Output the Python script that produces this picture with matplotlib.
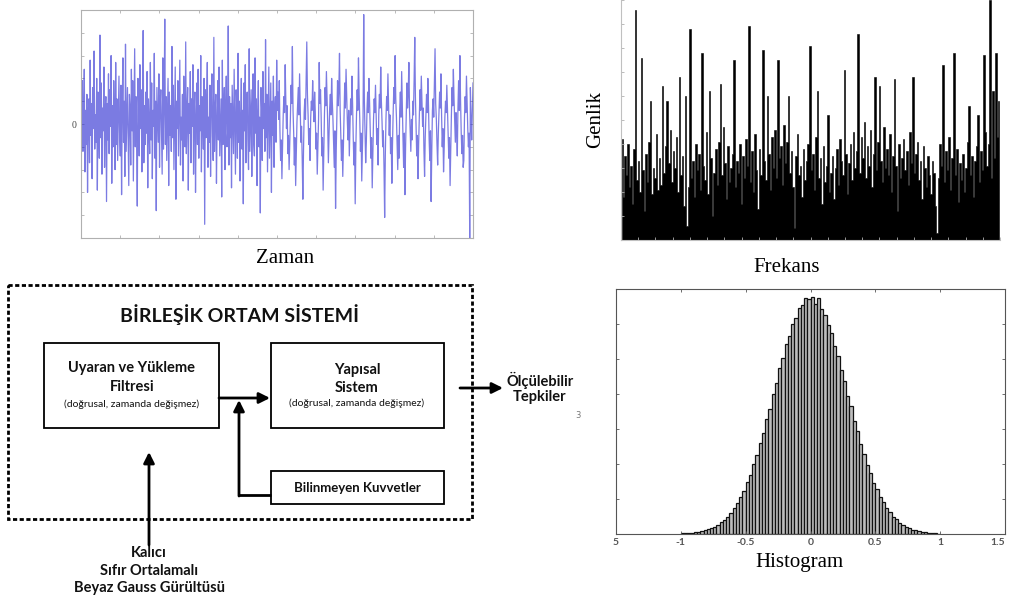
"""
Composite figure: noise in time, its spectrum, its histogram and the block diagram.
"""

import matplotlib

matplotlib.use("Agg")
import matplotlib.pyplot as plt
import numpy as np
from matplotlib.patches import Rectangle

W, H = 1010, 603
SANS = ["Lato", "DejaVu Sans"]
SERIF = ["Liberation Serif", "DejaVu Serif"]

# --- data ---
# white noise in time (Zaman), first and second half of the record
zaman_a = [
    0.8, -0.4, 1.9, -1.2, 0.3, 2.4, -2.1, 0.6, -0.9, 1.3, -3.0, 0.2, 1.1, -1.7, 2.8, -0.5, 0.9, -2.4, 1.6, -0.2,
    3.2, -1.1, 0.4, -0.8, 2.0, -2.9, 1.4, 0.1, -1.5, 3.9, -0.6, 1.8, -2.2, 0.7, -0.3, 2.5, -1.9, 0.5, 1.2, -3.4,
    0.9, -0.7, 2.2, -1.3, 1.5, -0.1, 3.0, -2.6, 0.8, -1.0, 1.9, 0.3, -2.0, 2.7, -0.9, 1.1, -1.6, 0.4, 2.1, -0.4,
    -1.4, 1.7, -3.1, 0.6, 2.9, -0.8, 1.0, -2.3, 3.5, -1.2, 0.2, 1.6, -0.5, -2.7, 1.3, 0.7, -1.8, 2.4, -0.3, 1.9,
    -2.5, 0.5, 3.3, -1.0, 1.2, -0.6, -3.6, 2.0, 0.9, -1.4, 2.6, -0.2, 1.5, -2.1, 0.3, 4.1, -1.7, 0.8, -0.9, 1.4,
    -0.4, 2.3, -2.8, 1.1, 0.0, -1.3, 2.7, -0.7, 1.8, -2.4, 0.6, -0.1, 3.1, -1.5, 1.0, -3.8, 1.6, 0.4, -0.8, 2.2,
    -1.9, 0.9, 1.5, -0.3, -2.2, 2.9, -1.1, 0.7, 4.6, -0.9, 1.2, -1.6, 0.2, 2.0, -2.7, 1.4, -0.5, 0.8, -1.2, 3.4,
    -0.6, 1.7, -2.0, 0.4, 2.5, -3.3, 1.0, -0.2, 1.9, -1.4, 0.6, 2.8, -1.8, 0.3, -0.7, 1.3, -2.5, 2.1, 0.1, -1.0,
    3.6, -1.3, 0.5, 1.6, -2.9, 0.9, -0.4, 2.3, -1.7, 1.1, -0.1, 2.6, -2.2, 0.7, 1.4, -3.0, 0.2, 1.8, -0.9, 2.4,
    -1.5, 0.8, -0.3, 3.0, -2.1, 1.2, 0.4, -1.1, 2.0, -4.4, 1.5, -0.6, 0.9, 2.7, -1.9, 0.3, -0.8, 1.7, -2.3, 1.0,
    2.2, -0.5, -1.6, 3.8, -1.2, 0.6, 1.3, -2.6, 0.1, 1.9, -0.7, 2.5, -1.4, -0.2, 1.1, -3.2, 2.8, -0.9, 0.5, 1.6,
    -2.0, 0.7, 2.1, -1.0, -0.4, 4.3, -1.8, 1.2, -0.6, 0.9, -2.8, 1.7, 0.3, -1.3, 2.4, -0.1, -2.2, 1.5, 0.8, -1.5,
    3.1, -0.8, 1.0, -2.5, 0.4, 2.0, -1.1, 0.6, -3.5, 1.8, -0.3, 2.6, -1.7, 0.9, 1.4, -0.7, -2.0, 3.3, -1.2, 0.2,
    1.5, -2.3, 0.8, 2.2, -0.9, -1.4, 2.9, -0.4, 1.1, -2.7, 0.5, 1.9, -1.0, 0.3, -3.9, 1.6, 0.7, -1.6, 2.3, -0.2,
    0.9, -1.2, 3.7, -0.6, 1.3, -2.1, 0.4, 2.5, -1.5, 0.1, 1.8, -3.0, 1.0, -0.5, 2.1, -1.9, 0.6, 1.2, -0.8, 2.8,
]
zaman_b = [
    0.6, 1.4, 0.2, 1.9, -0.3, -1.6, -0.7, -2.4, -1.1, 0.4, 1.2, 0.5, 2.6, 1.0, -0.2, 0.8, -1.3, -0.5, -2.0, -0.9,
    0.3, 1.7, 0.9, 3.4, 0.6, -0.4, -1.8, -0.6, -2.7, -1.4, 0.1, 0.9, 1.6, 0.4, 2.2, 0.7, -0.8, -0.1, -1.5, -3.3,
    -1.2, 0.5, 1.1, 0.2, 1.8, 3.6, 1.3, 0.4, -0.9, -0.2, -1.6, 0.3, 1.0, 0.6, 1.9, 0.8, 0.1, 1.4, 0.5, -1.1,
    -0.4, -2.2, -1.0, 0.2, 2.7, 0.9, 1.5, 0.3, -1.4, -0.6, -2.9, -1.3, 0.4, 1.6, 0.8, 2.3, 1.1, 0.0, -1.7, -0.5,
    0.7, 1.3, 0.4, 2.0, 1.0, 0.2, -0.8, -1.9, -0.3, -3.7, -1.2, 0.3, 1.9, 0.8, 1.5, 3.1, 0.6, -0.5, -1.6, -0.7,
    -2.3, -0.9, 0.5, 1.8, 0.7, 2.4, 1.2, 0.1, -0.7, 0.6, -1.4, -0.2, 1.1, 0.4, 2.1, 0.9, -0.6, -1.8, -0.8, -3.5,
    -1.0, 0.4, 1.5, 0.6, 2.9, 1.3, 0.2, -1.2, -0.4, -2.5, -1.1, 0.3, 4.8, 1.0, -0.3, -1.7, -0.8, 0.6, 1.4, 0.5,
    2.0, 0.9, -0.4, -1.5, -0.6, -2.8, -1.2, 0.2, 1.1, 0.5, 1.7, 0.3, -0.9, -0.2, -1.8, 0.4, 1.3, 0.7, 2.5, 1.0,
    0.1, -1.0, -0.3, -1.9, -4.1, -1.4, 0.2, 1.2, 0.6, 2.2, 0.8, -0.5, 0.4, -1.3, -0.6, -2.6, -0.9, 0.5, 1.6, 0.9,
    3.0, 1.1, 0.3, -0.8, -2.0, -0.5, -1.5, 0.6, 1.4, 0.3, 2.3, 0.8, -0.6, -1.9, -0.4, -3.1, -1.0, 0.5, 1.8, 0.7,
    1.3, 2.7, 0.6, -0.3, -1.2, 0.2, -0.7, 1.0, 0.4, 1.9, 3.8, 1.2, -0.2, -1.4, -0.5, -2.4, -0.8, 0.3, 1.5, 0.6,
    2.1, 0.9, -0.1, 0.7, -1.1, -2.3, -0.6, 0.4, 1.3, 0.5, 2.0, 0.8, -0.7, -1.6, -0.3, -3.4, -1.2, 0.6, 1.1, 0.3,
    1.8, 3.3, 0.9, 0.2, -0.9, -1.8, -0.4, 0.5, 1.4, 0.7, 2.2, 0.4, -1.0, -0.2, -2.1, -1.0, 0.3, 1.0, 0.5, 1.7,
    0.6, -0.5, -1.5, -0.6, -2.7, -1.1, 0.4, 1.6, 0.8, 2.4, 1.1, 0.1, -0.8, 0.5, -0.3, -1.4, 0.7, 1.9, 0.6, 3.0,
    1.0, -0.4, -1.3, -0.5, -1.9, -1.6, 0.3, 1.2, 0.5, 2.1, 0.9, -0.2, -1.0, -0.4, -5.0, 1.6, 0.3, -0.7, 0.6, 1.8,
]
zaman = zaman_a + zaman_b

# spectrum amplitude (Genlik vs Frekans), normalised to the axis height
genlik = [
    0.42, 0.18, 0.35, 0.27, 0.40, 0.22, 0.31, 0.15, 0.38, 0.96, 0.25, 0.33, 0.20, 0.76, 0.29, 0.12, 0.36, 0.24, 0.41, 0.58, 0.19, 0.30, 0.26, 0.44, 0.21,
    0.34, 0.23, 0.64, 0.28, 0.39, 0.58, 0.32, 0.46, 0.24, 0.37, 0.30, 0.43, 0.20, 0.68, 0.27, 0.35, 0.14, 0.60, 0.06, 0.22, 0.88, 0.26, 0.33, 0.18, 0.40,
    0.29, 0.36, 0.21, 0.78, 0.31, 0.25, 0.45, 0.19, 0.62, 0.34, 0.10, 0.28, 0.38, 0.23, 0.41, 0.65, 0.27, 0.47, 0.32, 0.17, 0.39, 0.24, 0.30, 0.36, 0.75,
    0.22, 0.33, 0.28, 0.40, 0.15, 0.35, 0.26, 0.42, 0.31, 0.89, 0.24, 0.37, 0.20, 0.44, 0.29, 0.13, 0.38, 0.27, 0.79, 0.33, 0.25, 0.60, 0.36, 0.21, 0.43,
    0.30, 0.46, 0.26, 0.75, 0.34, 0.39, 0.23, 0.48, 0.32, 0.41, 0.60, 0.28, 0.37, 0.22, 0.05, 0.35, 0.44, 0.27, 0.31, 0.18, 0.38, 0.25, 0.33, 0.40, 0.81,
    0.29, 0.36, 0.21, 0.43, 0.62, 0.26, 0.34, 0.15, 0.39, 0.24, 0.31, 0.52, 0.20, 0.28, 0.35, 0.17, 0.30, 0.38, 0.23, 0.42, 0.33, 0.27, 0.71, 0.36, 0.19,
    0.32, 0.40, 0.25, 0.45, 0.30, 0.37, 0.86, 0.28, 0.43, 0.34, 0.49, 0.26, 0.39, 0.31, 0.46, 0.22, 0.36, 0.68, 0.29, 0.41, 0.64, 0.33, 0.24, 0.47, 0.30,
    0.38, 0.27, 0.44, 0.20, 0.35, 0.67, 0.31, 0.12, 0.40, 0.26, 0.34, 0.42, 0.29, 0.37, 0.23, 0.45, 0.32, 0.68, 0.28, 0.36, 0.41, 0.25, 0.33, 0.17, 0.39,
    0.30, 0.22, 0.35, 0.27, 0.19, 0.33, 0.28, 0.14, 0.03, 0.26, 0.40, 0.31, 0.73, 0.24, 0.37, 0.29, 0.43, 0.21, 0.34, 0.78, 0.27, 0.38, 0.16, 0.32, 0.25,
    0.36, 0.20, 0.30, 0.41, 0.56, 0.27, 0.35, 0.18, 0.33, 0.39, 0.52, 0.24, 0.37, 0.29, 0.77, 0.45, 0.31, 0.40, 1.00, 0.26, 0.62, 0.34, 0.78, 0.43, 0.58,
]

# histogram: 80 bins of width 0.025 between -1 and 1
hist_width = 0.025
hist_neg = [
    15, 20, 28, 36, 48, 62, 82, 104, 135, 172, 214, 270, 338, 405, 500, 610, 755, 880, 1050, 1240,
    1500, 1700, 2010, 2250, 2610, 2890, 3290, 3580, 4010, 4310, 4740, 5020, 5420, 5660, 6010, 6180, 6460, 6550, 6730, 6720,
]
hist_pos = [
    6760, 6580, 6740, 6420, 6260, 5960, 5740, 5370, 5090, 4680, 4380, 3950, 3660, 3230, 2950, 2560, 2300, 1960, 1750, 1470,
    1280, 1050, 910, 740, 625, 500, 418, 325, 270, 205, 168, 126, 102, 75, 60, 43, 34, 24, 18, 12,
]
hist_counts = hist_neg + hist_pos
hist_ticks = [-1.5, -1, -0.5, 0, 0.5, 1, 1.5]
hist_ticklabels = ["5", "-1", "-0.5", "0", "0.5", "1", "1.5"]


def frac(x0, y0, x1, y1):
    """pixel box (top-left origin) -> figure fraction rect"""
    return [x0 / W, 1 - y1 / H, (x1 - x0) / W, (y1 - y0) / H]


def boxed(ax, color, ticklen=2.5):
    for s in ax.spines.values():
        s.set_color(color)
        s.set_linewidth(0.8)
    ax.tick_params(direction="in", length=ticklen, width=0.6, color=color,
                   top=True, right=True, labelsize=7, labelcolor="#444444")


fig = plt.figure(figsize=(W / 100, H / 100), dpi=100)

# (1) time signal
ax = fig.add_axes(frac(81, 10, 473, 238))
n = len(zaman)
ax.plot(np.arange(n), zaman, color="#2424d0", lw=0.9, alpha=0.6)
ax.set_xlim(0, n - 1)
ax.set_ylim(-5, 5)
ax.set_xticks(np.linspace(0, n - 1, 11))
ax.set_yticks(np.arange(-5, 6, 1))
ax.set_xticklabels([])
ax.set_yticklabels(["" if v != 0 else "0" for v in range(-5, 6)], family=SERIF)
boxed(ax, "#b0b0b0")

# (2) spectrum
ax = fig.add_axes(frac(621, 0, 1000, 240))
m = len(genlik)
ax.fill_between(np.arange(m), 0, genlik, step="mid", color="black", lw=0.4)
ax.set_xlim(-0.5, m - 0.5)
ax.set_ylim(0, 1)
ax.set_xticks(np.linspace(-0.5, m - 0.5, 23))
ax.set_yticks(np.linspace(0, 1, 11))
ax.set_xticklabels([])
ax.set_yticklabels([])
for side in ("top", "right"):
    ax.spines[side].set_visible(False)
for side in ("left", "bottom"):
    ax.spines[side].set_color("#c0c0c0")
ax.tick_params(direction="in", length=2.5, width=0.6, color="#b0b0b0")

# (3) histogram
ax = fig.add_axes(frac(616, 289, 1005, 534))
centers = -1 + hist_width / 2 + hist_width * np.arange(len(hist_counts))
ax.bar(centers, hist_counts, width=hist_width, color="#bdbdbd",
       edgecolor="#111111", linewidth=0.9)
ax.set_xlim(-1.5, 1.5)
ax.set_ylim(0, 7000)
ax.set_xticks(hist_ticks)
ax.set_xticklabels(hist_ticklabels, family=SANS, fontweight="bold")
ax.get_xticklabels()[-1].set_ha("right")
ax.set_yticks(np.arange(0, 7001, 1000))
ax.set_yticklabels([])
boxed(ax, "#555555", ticklen=2.5)
ax.tick_params(axis="x", pad=3, labelsize=7.5, labelcolor="#555555")

# panel captions
cap = dict(family=SERIF, fontsize=15, ha="center", va="center", color="black")
fig.text(285 / W, 1 - 258 / H, "Zaman", **cap)
fig.text(787 / W, 1 - 267 / H, "Frekans", **cap)
fig.text(596 / W, 1 - 120 / H, "Genlik", rotation=90, **cap)
fig.text(799 / W, 1 - 562 / H, "Histogram", **cap)

# (4) block diagram, pixel coordinates
d = fig.add_axes([0, 0, 1, 1], facecolor="none")
d.set_xlim(0, W)
d.set_ylim(H, 0)
d.axis("off")

d.add_patch(Rectangle((8, 285), 464, 234, fill=False, lw=2.0,
                      ls=(0, (1.5, 0.9)), edgecolor="black"))
for x0, y0, w, h in [(44, 343, 175, 85), (271, 343, 173, 85), (271, 471, 173, 33)]:
    d.add_patch(Rectangle((x0, y0), w, h, fill=False, lw=1.3, edgecolor="black"))

txt = dict(family=SANS, ha="center", va="center", color="#111111")
d.text(240, 315, "BİRLEŞİK ORTAM SİSTEMİ", fontsize=14, fontweight="bold", **txt)
d.text(132, 368, "Uyaran ve Yükleme", fontsize=10.5, fontweight="bold", **txt)
d.text(132, 387, "Filtresi", fontsize=10.5, fontweight="bold", **txt)
d.text(132, 404, "(doğrusal, zamanda değişmez)", fontsize=7.5, **txt)
d.text(357, 370, "Yapısal", fontsize=10.5, fontweight="bold", **txt)
d.text(357, 388, "Sistem", fontsize=10.5, fontweight="bold", **txt)
d.text(357, 403, "(doğrusal, zamanda değişmez)", fontsize=7.5, **txt)
d.text(357, 488, "Bilinmeyen Kuvvetler", fontsize=9.5, fontweight="bold", **txt)
d.text(540, 380, "Ölçülebilir", fontsize=10.5, fontweight="bold", **txt)
d.text(540, 397, "Tepkiler", fontsize=10.5, fontweight="bold", **txt)
d.text(578, 415, "3", fontsize=6, color="#777777", ha="center", va="center")
d.text(149, 553, "Kalıcı", fontsize=10.5, fontweight="bold", **txt)
d.text(149, 571, "Sıfır Ortalamalı", fontsize=10.5, fontweight="bold", **txt)
d.text(149, 588, "Beyaz Gauss Gürültüsü", fontsize=10.5, fontweight="bold", **txt)

arrow = dict(arrowstyle="-|>", lw=2.0, color="black", mutation_scale=16,
             shrinkA=0, shrinkB=0)
d.annotate("", xy=(270, 398), xytext=(219, 398), arrowprops=arrow)
d.plot([271, 239], [495, 495], color="black", lw=2.0, solid_capstyle="butt")
d.annotate("", xy=(239, 400), xytext=(239, 496), arrowprops=arrow)
d.annotate("", xy=(149, 452), xytext=(149, 545), arrowprops=arrow)
d.annotate("", xy=(503, 388), xytext=(460, 388), arrowprops=arrow)

fig.savefig("out.png", dpi=100)
plt.close(fig)
